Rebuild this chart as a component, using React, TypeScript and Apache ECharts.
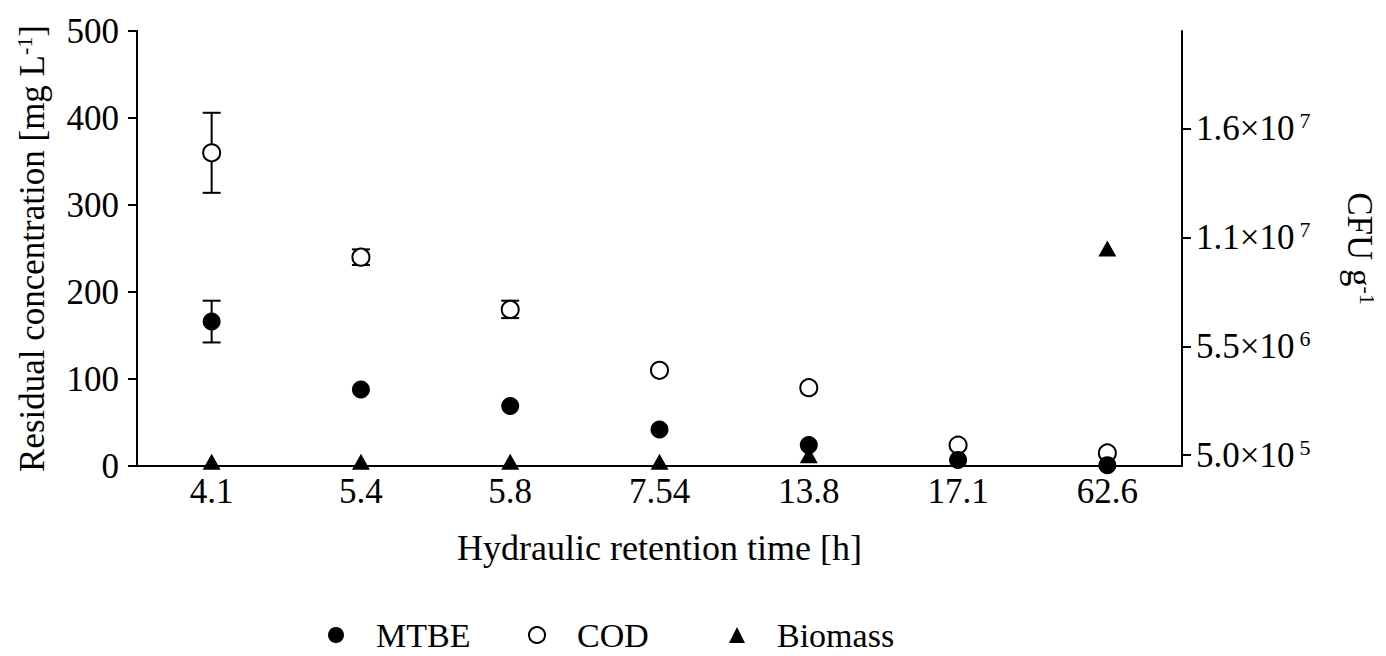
import React, { useEffect, useRef } from "react";
import * as echarts from "echarts";

const categories = ["4.1", "5.4", "5.8", "7.54", "13.8", "17.1", "62.6"];
const mtbe = [166, 88, 69, 42, 24, 7, 1];
const mtbeErr = [24, 0, 0, 0, 0, 0, 0];
const cod = [360, 240, 180, 110, 90, 24, 15];
const codErr = [46, 9, 10, 0, 0, 0, 0];
const biomass = [2.0e5, 2.0e5, 2.0e5, 2.0e5, 5.0e5, 6.0e5, 1.0e7];
const leftTicks = [0, 100, 200, 300, 400, 500];
const rightTickValues = [5.0e5, 5.5e6, 1.05e7, 1.55e7];
const rightTickLabels = [
  ["5.0", "5"],
  ["5.5", "6"],
  ["1.1", "7"],
  ["1.6", "7"],
];

const FONT = "'Liberation Serif', 'Times New Roman', serif";

export default function App() {
  const ref = useRef<HTMLDivElement>(null);
  useEffect(() => {
    if (!ref.current) return;
    const chart = echarts.init(ref.current, null, { renderer: "svg" });

    const errData = (vals: number[], errs: number[]) =>
      vals
        .map((v, i) => (errs[i] > 0 ? [i, v - errs[i], v + errs[i]] : null))
        .filter((d) => d !== null);

    const renderErr = (params: any, api: any) => {
      const x = api.value(0);
      const lo = api.coord([x, api.value(1)]);
      const hi = api.coord([x, api.value(2)]);
      const hw = 9;
      const style = { stroke: "#000", lineWidth: 2, fill: null };
      return {
        type: "group",
        children: [
          { type: "line", shape: { x1: lo[0], y1: lo[1], x2: hi[0], y2: hi[1] }, style },
          { type: "line", shape: { x1: lo[0] - hw, y1: lo[1], x2: lo[0] + hw, y2: lo[1] }, style },
          { type: "line", shape: { x1: hi[0] - hw, y1: hi[1], x2: hi[0] + hw, y2: hi[1] }, style },
        ],
      };
    };

    const sup = { fontFamily: FONT, fontSize: 22, color: "#000", padding: [0, 0, 16, 0] };

    chart.setOption({
      animation: false,
      backgroundColor: "#fff",
      textStyle: { fontFamily: FONT, color: "#000" },
      grid: { left: 137, right: 203, top: 31, bottom: 190 },
      legend: {
        left: 328,
        top: 618,
        padding: 0,
        itemWidth: 16,
        itemHeight: 16,
        itemGap: 32,
        data: ["MTBE", "COD", "Biomass"],
        formatter: (name: string) => "{t|" + name + "}",
        textStyle: {
          fontFamily: FONT,
          fontSize: 34,
          color: "#000",
          lineHeight: 32,
          padding: [0, 0, 0, 27],
          rich: {
            t: { fontFamily: FONT, fontSize: 34, color: "#000", width: 120, lineHeight: 32 },
          },
        },
      },
      xAxis: {
        type: "category",
        data: categories,
        axisLine: { lineStyle: { color: "#000", width: 2 } },
        axisTick: { alignWithLabel: true, length: 9, lineStyle: { color: "#000", width: 2 } },
        axisLabel: { fontFamily: FONT, fontSize: 35, color: "#000", margin: 8 },
        name: "Hydraulic retention time [h]",
        nameLocation: "middle",
        nameGap: 64,
        nameTextStyle: { fontFamily: FONT, fontSize: 36, color: "#000" },
      },
      yAxis: [
        {
          type: "value",
          min: 0,
          max: 500,
          interval: 100,
          splitLine: { show: false },
          axisLine: { show: true, lineStyle: { color: "#000", width: 2 } },
          axisTick: { show: true, length: 9, lineStyle: { color: "#000", width: 2 } },
          axisLabel: {
            fontFamily: FONT,
            fontSize: 35,
            color: "#000",
            margin: 18,
            formatter: (v: number) => (leftTicks.includes(v) ? String(v) : ""),
          },
          name: "Residual concentration [mg L{s|-1}]",
          nameLocation: "middle",
          nameGap: 86,
          nameRotate: 90,
          nameTextStyle: {
            fontFamily: FONT,
            fontSize: 35,
            color: "#000",
            rich: { s: sup },
          },
        },
        {
          type: "value",
          position: "right",
          min: 0,
          max: 2.0e7,
          splitLine: { show: false },
          axisLine: { show: true, lineStyle: { color: "#000", width: 2 } },
          axisTick: {
            show: true,
            length: 9,
            customValues: rightTickValues,
            lineStyle: { color: "#000", width: 2 },
          },
          axisLabel: {
            customValues: rightTickValues,
            margin: 14,
            formatter: (v: number) => {
              const i = rightTickValues.indexOf(v);
              if (i < 0) return "";
              return "{a|" + rightTickLabels[i][0] + "×10}{s|" + rightTickLabels[i][1] + "}";
            },
            rich: {
              a: { fontFamily: FONT, fontSize: 35, color: "#000" },
              s: { ...sup, padding: [0, 0, 16, 5] },
            },
          },
          name: "CFU g{s|-1}",
          nameLocation: "middle",
          nameGap: 158,
          nameRotate: -90,
          nameTextStyle: {
            fontFamily: FONT,
            fontSize: 35,
            color: "#000",
            rich: { s: sup },
          },
        },
      ],
      series: [
        {
          type: "custom",
          name: "MTBE err",
          yAxisIndex: 0,
          renderItem: renderErr,
          data: errData(mtbe, mtbeErr),
          z: 1,
          silent: true,
        },
        {
          type: "custom",
          name: "COD err",
          yAxisIndex: 0,
          renderItem: renderErr,
          data: errData(cod, codErr),
          z: 1,
          silent: true,
        },
        {
          type: "scatter",
          name: "Biomass",
          yAxisIndex: 1,
          data: biomass,
          symbol: "triangle",
          symbolSize: [18, 16],
          itemStyle: { color: "#000", opacity: 1 },
          z: 3,
        },
        {
          type: "scatter",
          name: "COD",
          yAxisIndex: 0,
          data: cod,
          symbol: "circle",
          symbolSize: 17,
          itemStyle: { color: "#fff", borderColor: "#000", borderWidth: 2, opacity: 1 },
          z: 4,
        },
        {
          type: "scatter",
          name: "MTBE",
          yAxisIndex: 0,
          data: mtbe,
          symbol: "circle",
          symbolSize: 18,
          itemStyle: { color: "#000", opacity: 1 },
          z: 5,
        },
      ],
    });
    return () => chart.dispose();
  }, []);
  return (
    <div
      ref={ref}
      style={{ position: "absolute", left: 0, top: 0, width: 1386, height: 656 }}
    />
  );
}
